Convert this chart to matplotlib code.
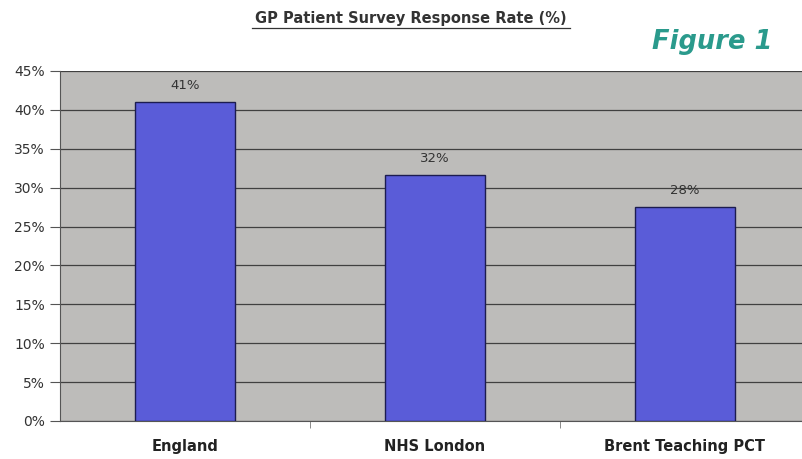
import matplotlib
matplotlib.use("Agg")
import matplotlib.pyplot as plt
from matplotlib.ticker import PercentFormatter

categories = ["England", "NHS London", "Brent Teaching PCT"]
values = [41.0, 31.6, 27.5]
labels = ["41%", "32%", "28%"]
yticks = [0, 5, 10, 15, 20, 25, 30, 35, 40, 45]

W, H = 802, 459
fig = plt.figure(figsize=(W / 100, H / 100), dpi=100)
fig.patch.set_facecolor("white")

left, right, bottom, top = 60, 810, 421, 71
ax = fig.add_axes([left / W, 1 - bottom / H, (right - left) / W, (bottom - top) / H])
ax.set_facecolor("#bdbcba")

x = range(len(categories))
ax.bar(x, values, width=0.4, color="#5a5cd8", edgecolor="#1c1c50", linewidth=1.0, zorder=3)
for xi, v, lab in zip(x, values, labels):
    ax.text(xi, v + 1.3, lab, ha="center", va="bottom", fontsize=9.5, color="#333333", zorder=4)

ax.set_xlim(-0.5, 2.5)
ax.set_ylim(0, 45)
ax.set_yticks(yticks)
ax.yaxis.set_major_formatter(PercentFormatter(decimals=0))
ax.yaxis.grid(True, color="#404040", linewidth=0.9, zorder=1)
ax.set_xticks(list(x))
ax.set_xticklabels(categories, fontsize=10.5, fontweight="bold", color="#222222")
ax.set_xticks([0.5, 1.5], minor=True)
ax.tick_params(axis="x", which="major", length=0, pad=13)
ax.tick_params(axis="x", which="minor", length=5, color="#777777")
ax.tick_params(axis="y", labelsize=10, labelcolor="#333333", length=7, color="#555555", pad=4)
for s in ["top", "right"]:
    ax.spines[s].set_visible(False)
ax.spines["left"].set_color("#555555")
ax.spines["bottom"].set_color("#555555")

fig.text(411 / W, 1 - 19 / H, "GP Patient Survey Response Rate (%)", ha="center", va="center",
         fontsize=10.5, fontweight="bold", color="#333333")
fig.add_artist(plt.Line2D([252 / W, 570 / W], [1 - 28 / H, 1 - 28 / H], color="#333333", linewidth=0.9))
fig.text(712 / W, 1 - 42 / H, "Figure 1", ha="center", va="center", fontsize=18.5,
         fontweight="bold", fontstyle="italic", color="#2a9a8c")

fig.savefig("out.png", dpi=100, facecolor="white")
